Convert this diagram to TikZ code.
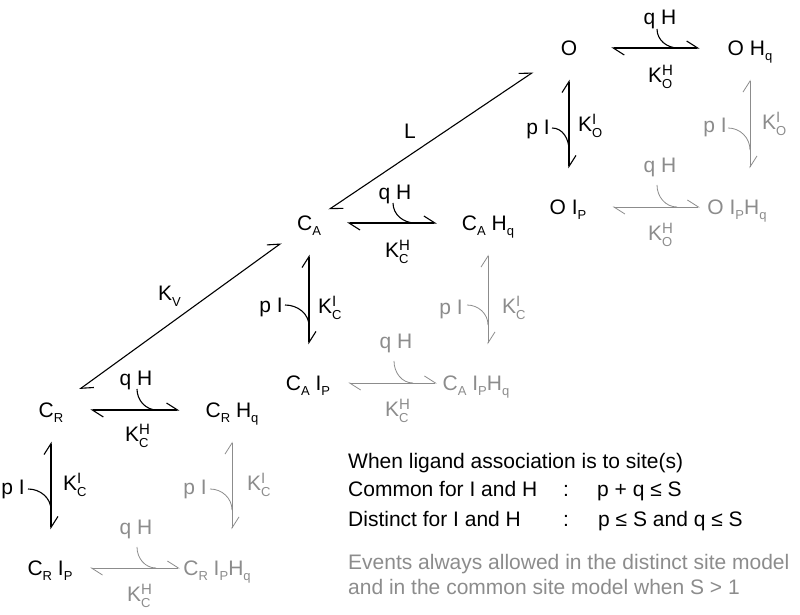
\documentclass[tikz,border=0pt]{standalone}
\usepackage{fontspec}
\setmainfont{Liberation Sans}
\usetikzlibrary{arrows.meta}
\definecolor{fadegray}{gray}{0.55}

% subscripts and rate constants
\newcommand{\sbs}[1]{\raisebox{-5.5pt}{\fontsize{13}{13}\selectfont #1}}
\newcommand{\rate}[2]{K\rlap{\raisebox{6.7pt}{\fontsize{15}{15}\selectfont #1}}\raisebox{-6.5pt}{\fontsize{13}{13}\selectfont #2}}

\tikzset{
  species/.style={inner sep=0pt, text height=15pt, text depth=0pt},
  note/.style={inner sep=0pt, anchor=base west},
  eq/.style={line width=1.1pt, {Straight Barb[left,length=11pt,width=14pt]}-{Straight Barb[left,length=11pt,width=14pt]}},
  eqh/.style 2 args={eq, shorten <=#1pt, shorten >=#2pt},
  eqv/.style={eq, shorten <=24pt, shorten >=31pt},
  lig/.style={line width=1.1pt},
  fadeline/.style={fadegray, line width=0.8pt},
  faded/.style={text=fadegray}
}

\begin{document}
\begin{tikzpicture}[x=1pt, y=1pt, font=\fontsize{21}{25}\selectfont]
    \useasboundingbox (0,0) rectangle (800,615);

    % ===== Species =====
    \node[species] (O)   at (569,567) {O};
    \node[species] (OH)  at (750,567) {O H\sbs{q}};
    \node[species] (OI)  at (568,408) {O I\sbs{P}};
    \node[species, faded] (OIH) at (737,408) {O I\sbs{P}H\sbs{q}};
    \node[species] (CA)   at (309,392) {C\sbs{A}};
    \node[species] (CAH)  at (488,392) {C\sbs{A} H\sbs{q}};
    \node[species] (CAI)  at (308,232) {C\sbs{A} I\sbs{P}};
    \node[species, faded] (CAIH) at (476,232) {C\sbs{A} I\sbs{P}H\sbs{q}};
    \node[species] (CR)   at (51,205) {C\sbs{R}};
    \node[species] (CRH)  at (232,205) {C\sbs{R} H\sbs{q}};
    \node[species] (CRI)  at (50,47) {C\sbs{R} I\sbs{P}};
    \node[species, faded] (CRIH) at (217,47) {C\sbs{R} I\sbs{P}H\sbs{q}};

    % ===== Conformational steps =====
    \draw[eq, shorten <=22pt, shorten >=21pt] (CR) -- (CA);
    \draw[eq, shorten <=10pt, shorten >=33pt] (CA) -- (O);
    \node[species, anchor=west] (KV) at (158,322) {K\raisebox{-6.5pt}{\fontsize{13}{13}\selectfont V}};
    \node[species] (L) at (410,484) {L};

    % ===== H binding (horizontal) =====
    \draw[eqh={34}{28}] (O) -- (OH);
    \draw[eqh={26}{25}] (CA) -- (CAH);
    \draw[eqh={27}{26}] (CR) -- (CRH);
    \draw[eqh={26}{7.5}, fadeline] (OI) -- (OIH);
    \draw[eqh={18}{5.7}, fadeline] (CAI) -- (CAIH);
    \draw[eqh={17.5}{3.4}, fadeline] (CRI) -- (CRIH);
    % Ligand labels
    \node[species] (qHO)  at (660,598) {q H};
    \node[species] (qHCA) at (395,423) {q H};
    \node[species] (qHCR) at (136,237) {q H};
    \node[species, faded] (qHOI)  at (660,450) {q H};
    \node[species, faded] (qHCAI) at (396,274) {q H};
    \node[species, faded] (qHCRI) at (136,88) {q H};
    % Constants
    \node[species, anchor=west] (KHO)  at (648,540) {\rate{H}{O}};
    \node[species, anchor=west] (KHCA) at (385,365) {\rate{H}{C}};
    \node[species, anchor=west] (KHCR) at (125,181) {\rate{H}{C}};
    \node[species, anchor=west, faded] (KHOI)  at (648,382) {\rate{H}{O}};
    \node[species, anchor=west, faded] (KHCAI) at (385,206) {\rate{H}{C}};
    \node[species, anchor=west, faded] (KHCRI) at (127,21) {\rate{H}{C}};
    % Entry curves
    \foreach \ax/\ay/\bx/\by in {657/586/678/567, 393/412/415/392, 137/226/157/205} {
        \draw[lig] (\ax,\ay) to[out=-90, in=180] (\bx,\by);
    }
    \foreach \ax/\ay/\bx/\by in {657/430/677/408, 394/254/413/232, 137/68/156/47} {
        \draw[fadeline] (\ax,\ay) to[out=-90, in=180] (\bx,\by);
    }

    % ===== I binding (vertical) =====
    \draw[eqv] (O.south) -- (O.south |- OI.north);
    \draw[eqv] (CA.south) -- (CA.south |- CAI.north);
    \draw[eqv] (CR.south) -- (CR.south |- CRI.north);
    \draw[eqv, fadeline] (OH.south) -- (OH.south |- OIH.north);
    \draw[eqv, fadeline] (CAH.south) -- (CAH.south |- CAIH.north);
    \draw[eqv, fadeline] (CRH.south) -- (CRH.south |- CRIH.north);
    % Ligand labels
    \node[species, anchor=east] (pIO)  at (550,488) {p I};
    \node[species, anchor=east] (pICA) at (283,310) {p I};
    \node[species, anchor=east] (pICR) at (25,128) {p I};
    \node[species, anchor=east, faded] (pIOH)  at (727,490) {p I};
    \node[species, anchor=east, faded] (pICAH) at (463,308) {p I};
    \node[species, anchor=east, faded] (pICRH) at (207,128) {p I};
    % Constants
    \node[species, anchor=west] (KIO)  at (578,491) {\rate{I}{O}};
    \node[species, anchor=west] (KICA) at (318,309) {\rate{I}{C}};
    \node[species, anchor=west] (KICR) at (63,132) {\rate{I}{C}};
    \node[species, anchor=west, faded] (KIOH)  at (762,493) {\rate{I}{O}};
    \node[species, anchor=west, faded] (KICAH) at (502,309) {\rate{I}{C}};
    \node[species, anchor=west, faded] (KICRH) at (247,132) {\rate{I}{C}};
    % Entry curves
    \foreach \ax/\ay/\bx/\by in {552/487/569/465, 285/310/309/289, 28/126/51/105} {
        \draw[lig] (\ax,\ay) to[out=0, in=90] (\bx,\by);
    }
    \foreach \ax/\ay/\bx/\by in {728/487/750/465, 467/310/488/290, 210/126/232/105} {
        \draw[fadeline] (\ax,\ay) to[out=0, in=90] (\bx,\by);
    }

    % ===== Legend =====
    \node[note] (when) at (348,146.7) {When ligand association is to site(s)};
    \node[note] (common) at (348,118.3) {Common for I and H};
    \node[note] (colA) at (563,118.3) {:};
    \node[note] (condA) at (597,118.3) {p + q ≤ S};
    \node[note] (distinct) at (348,88.3) {Distinct for I and H};
    \node[note] (colB) at (563,88.3) {:};
    \node[note] (condB) at (598,88.3) {p ≤ S and q ≤ S};
    \node[note, faded] (events) at (348,45) {Events always allowed in the distinct site model};
    \node[note, faded] (events2) at (348,20) {and in the common site model when S > 1};
\end{tikzpicture}
\end{document}
